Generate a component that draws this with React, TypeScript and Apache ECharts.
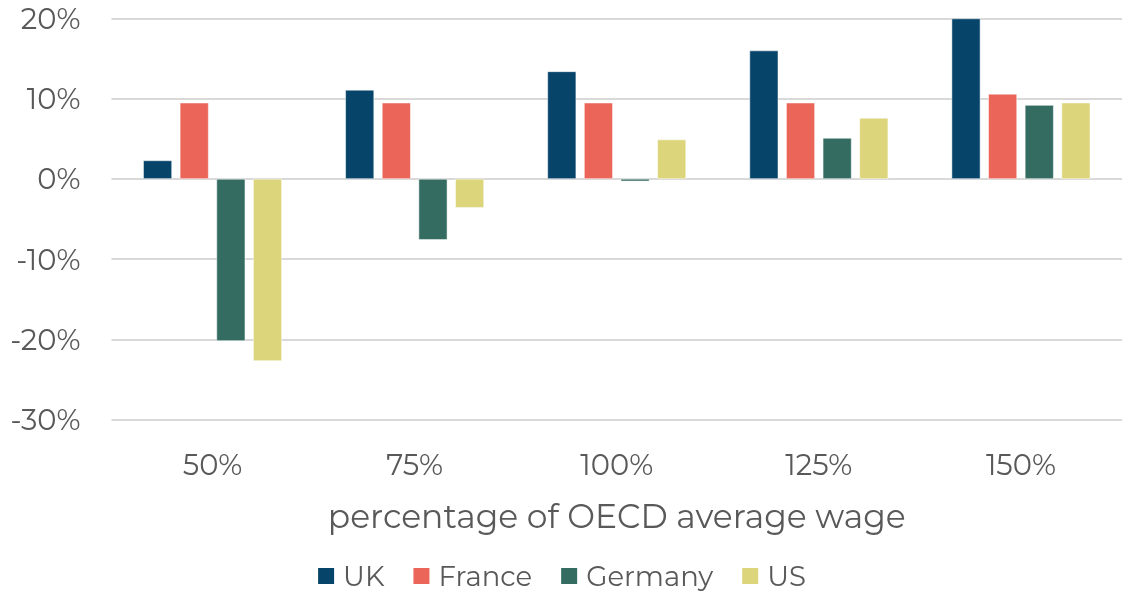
import React, { useEffect, useRef } from "react";
import * as echarts from "echarts";

const categories = ["50%", "75%", "100%", "125%", "150%"];
const uk = [2.3, 11.1, 13.4, 16.0, 20.0];
const france = [9.5, 9.5, 9.5, 9.5, 10.6];
const germany = [-20.2, -7.6, -0.3, 5.1, 9.2];
const us = [-22.7, -3.6, 4.9, 7.6, 9.5];
const seriesNames = ["UK", "France", "Germany", "US"];
const colors = ["#06446A", "#EB6558", "#356C62", "#DCD57C"];

const FONT = "Montserrat, 'Open Sans', Lato, sans-serif";

export default function App() {
  const ref = useRef<HTMLDivElement>(null);
  useEffect(() => {
    if (!ref.current) return;
    const chart = echarts.init(ref.current, null, { renderer: "svg" });
    const data = [uk, france, germany, us];
    chart.setOption({
      animation: false,
      color: colors,
      textStyle: { fontFamily: FONT, color: "#595959" },
      grid: { left: 111.5, width: 1015.6, top: 18.5, height: 401, containLabel: false },
      legend: {
        top: 557,
        left: "center",
        itemWidth: 18,
        itemHeight: 18,
        itemGap: 27,
        icon: "rect",
        textStyle: {
          fontSize: 27.5,
          color: "#595959",
          fontFamily: FONT,
          padding: [0, 0, 0, 3],
        },
        data: seriesNames,
      },
      xAxis: {
        type: "category",
        data: categories,
        name: "percentage of OECD average wage",
        nameLocation: "middle",
        nameGap: 80,
        nameTextStyle: { fontSize: 33, color: "#595959", fontFamily: FONT },
        axisLine: { show: false, onZero: false },
        axisTick: { show: false },
        axisLabel: { fontSize: 29, color: "#595959", margin: 30, fontFamily: FONT },
      },
      yAxis: {
        type: "value",
        min: -30,
        max: 20,
        interval: 10,
        axisLabel: {
          formatter: "{value}%",
          fontSize: 29,
          color: "#595959",
          margin: 31,
          fontFamily: FONT,
        },
        axisLine: { show: false },
        axisTick: { show: false },
        splitLine: { lineStyle: { color: "#D9D9D9", width: 2 } },
      },
      series: data.map((d, i) => ({
        name: seriesNames[i],
        type: "bar",
        data: d,
        barGap: "27.5%",
        barCategoryGap: "31.4%",
        itemStyle: { color: colors[i], borderColor: "#ffffff", borderWidth: 0.5 },
      })),
    });
    return () => chart.dispose();
  }, []);
  return (
    <div
      ref={ref}
      style={{ width: 1122, height: 592, position: "fixed", left: 0, top: 0 }}
    />
  );
}
